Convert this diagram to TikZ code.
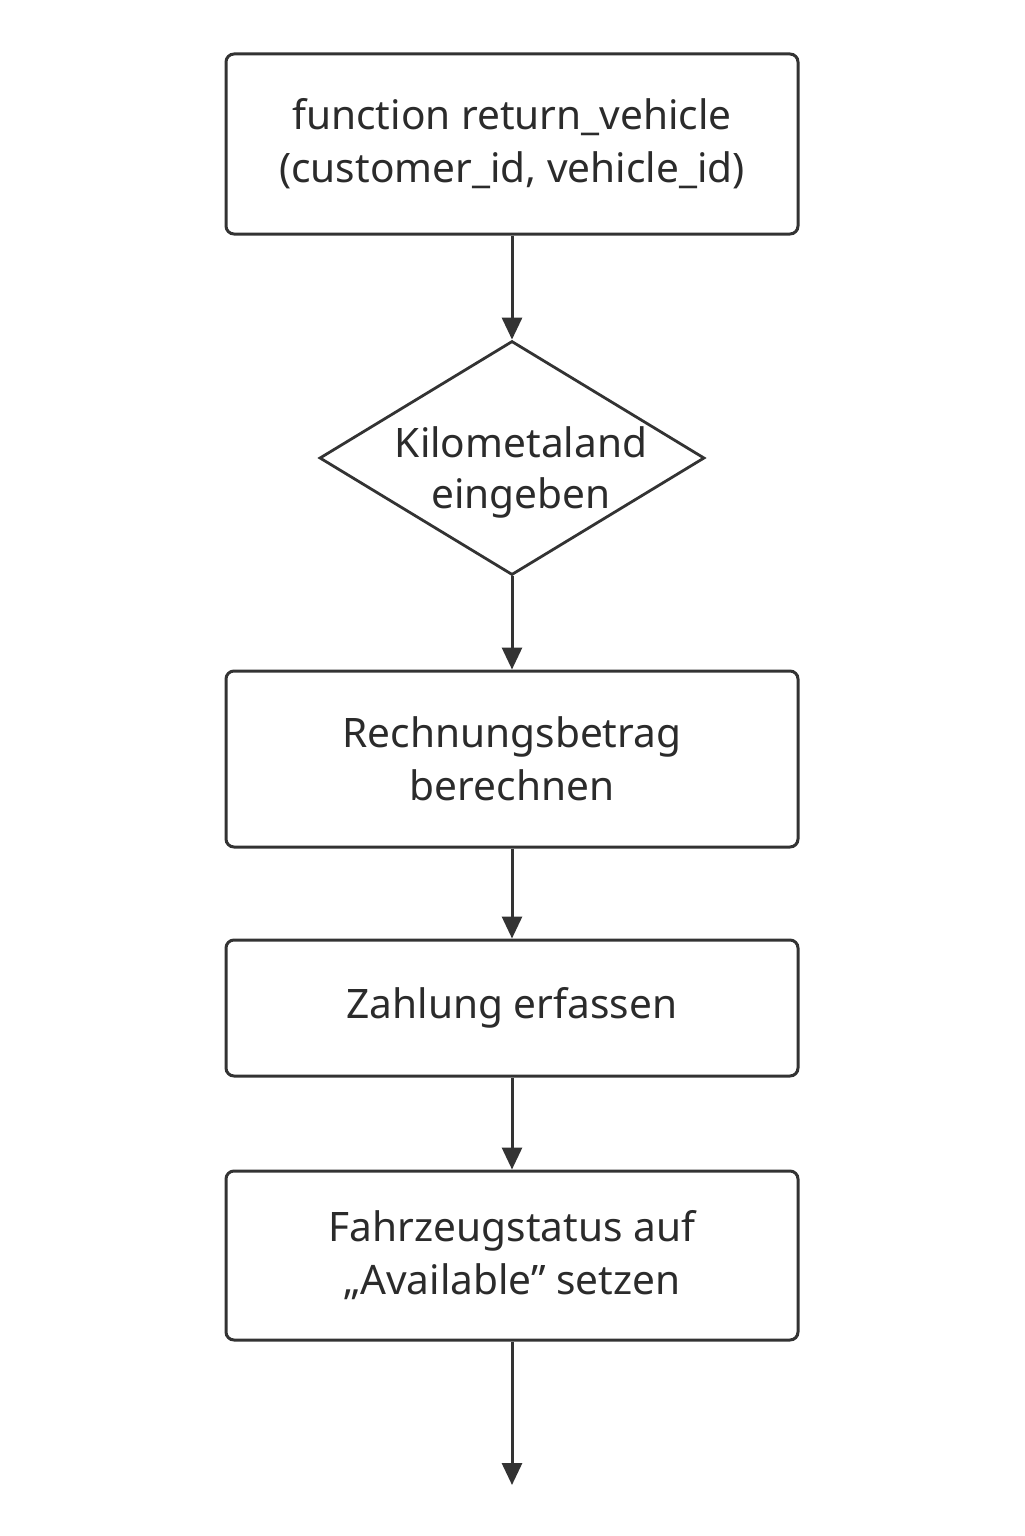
\documentclass[tikz,border=0pt]{standalone}
\usepackage{fontspec}
\setmainfont{Noto Sans}
\usetikzlibrary{shapes.geometric,arrows.meta}
\definecolor{linegray}{HTML}{333333}
\definecolor{textgray}{HTML}{2B2B2B}
\tikzset{
  stepbox/.style={draw=linegray, line width=1.5pt, rounded corners=4pt, minimum width=286pt, align=center, text=textgray, font=\fontsize{20.3}{26.5}\selectfont},
  decision/.style={diamond, draw=linegray, line width=1.4pt, minimum width=192.5pt, minimum height=117pt, inner sep=0pt},
  decisiontext/.style={align=center, text=textgray, font=\fontsize{20.3}{25.5}\selectfont},
  flow/.style={draw=linegray, line width=1.5pt, -{Triangle[width=10pt,length=11pt]}}
}
\begin{document}
\begin{tikzpicture}[x=0.5pt,y=-0.5pt]
      \useasboundingbox (0,0) rectangle (1024,1536);
      % Steps
      \node[stepbox, minimum height=90pt] (start) at (512,144) {function return\_vehicle\\(customer\_id, vehicle\_id)};
      \node[decision, label={[decisiontext, xshift=4.5pt, yshift=-7pt]center:{Kilometaland\\eingeben}}] (km) at (512,458) {};
      \node[stepbox, minimum height=88pt] (bill) at (512,759) {Rechnungsbetrag\\berechnen};
      \node[stepbox, minimum height=68pt] (pay) at (512,1008) {Zahlung erfassen};
      \node[stepbox, minimum height=84.5pt] (status) at (512,1255.5) {Fahrzeugstatus auf\\„Available” setzen};
      \coordinate (end) at (512,1485);
      % Arrows
      \draw[flow] (start) -- (km);
      \draw[flow] (km) -- (bill);
      \draw[flow] (bill) -- (pay);
      \draw[flow] (pay) -- (status);
      \draw[flow] (status) -- (end);
    \end{tikzpicture}
\end{document}
